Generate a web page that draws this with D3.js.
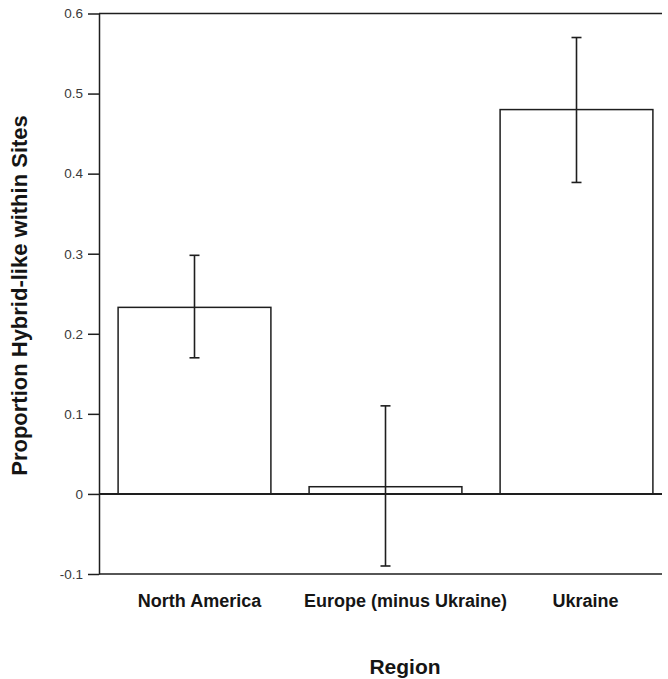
<!DOCTYPE html>
<html>
<head>
<meta charset="utf-8">
<script src="https://cdn.jsdelivr.net/npm/d3@7"></script>
<style>
  body { margin: 0; background: #fff; }
  svg { display: block; font-family: "Liberation Sans", Arial, sans-serif; }
</style>
</head>
<body>
<div id="chart"></div>
<script>
// Data
const regions = ['North America', 'Europe (minus Ukraine)', 'Ukraine'];
const proportions = [0.233, 0.009, 0.48];
const errLow = [0.17, -0.09, 0.389];
const errHigh = [0.298, 0.11, 0.57];
const yTicks = [-0.1, 0, 0.1, 0.2, 0.3, 0.4, 0.5, 0.6];

const width = 668, height = 679;
const plotLeft = 99, plotRight = 662, plotTop = 13.5, plotBottom = 574;
const ink = '#1e1e1e';
// labels in the original sit a little right of the bar centres
const labelNudge = [5, 20, 9];

const svg = d3.select('#chart').append('svg')
    .attr('width', width)
    .attr('height', height);

const x = d3.scaleBand()
    .domain(regions)
    .range([plotLeft, plotLeft + 191 * 3])
    .paddingInner(0.2)
    .paddingOuter(0.1);

const y = d3.scaleLinear()
    .domain([-0.1, 0.6])
    .range([plotBottom, plotTop]);

// Y axis with outward ticks
const yAxis = d3.axisLeft(y)
    .tickValues(yTicks)
    .tickSize(11)
    .tickSizeOuter(0)
    .tickPadding(5)
    .tickFormat(d => d === 0 ? '0' : d.toFixed(1));

const gy = svg.append('g')
    .attr('transform', `translate(${plotLeft},0)`)
    .call(yAxis);
gy.select('.domain').attr('stroke', ink).attr('stroke-width', 1.5);
gy.selectAll('.tick line').attr('stroke', ink).attr('stroke-width', 1.5);
gy.selectAll('.tick text')
    .attr('fill', '#3a3a3a')
    .style('font-size', '13.5px');

// Frame lines at top and bottom of plot
svg.append('line')
    .attr('x1', plotLeft).attr('x2', plotRight)
    .attr('y1', y(0.6)).attr('y2', y(0.6))
    .attr('stroke', ink).attr('stroke-width', 1.5);
svg.append('line')
    .attr('x1', plotLeft).attr('x2', plotRight)
    .attr('y1', y(-0.1)).attr('y2', y(-0.1))
    .attr('stroke', ink).attr('stroke-width', 1.5);

// Bars
const data = regions.map((r, i) => ({
    region: r, value: proportions[i], lo: errLow[i], hi: errHigh[i]
}));

svg.append('g')
    .selectAll('rect')
    .data(data)
    .enter()
    .append('rect')
    .attr('x', d => x(d.region))
    .attr('y', d => y(d.value))
    .attr('width', x.bandwidth())
    .attr('height', d => y(0) - y(d.value))
    .attr('fill', '#fff')
    .attr('stroke', ink)
    .attr('stroke-width', 1.5);

// Zero line
svg.append('line')
    .attr('x1', plotLeft).attr('x2', plotRight)
    .attr('y1', y(0)).attr('y2', y(0))
    .attr('stroke', ink).attr('stroke-width', 2);

// Error bars
const err = svg.append('g').attr('stroke', ink).attr('stroke-width', 1.6);
data.forEach(d => {
    const cx = x(d.region) + x.bandwidth() / 2;
    err.append('line')
        .attr('x1', cx).attr('x2', cx)
        .attr('y1', y(d.lo)).attr('y2', y(d.hi));
    [d.lo, d.hi].forEach(v => {
        err.append('line')
            .attr('x1', cx - 5).attr('x2', cx + 5)
            .attr('y1', y(v)).attr('y2', y(v));
    });
});

// Category labels
svg.append('g')
    .selectAll('text')
    .data(regions)
    .enter()
    .append('text')
    .attr('x', (d, i) => x(d) + x.bandwidth() / 2 + labelNudge[i])
    .attr('y', 607)
    .attr('text-anchor', 'middle')
    .style('font-size', '18px')
    .style('font-weight', 'bold')
    .attr('fill', '#151515')
    .text(d => d);

// Axis titles
svg.append('text')
    .attr('x', 405)
    .attr('y', 674)
    .attr('text-anchor', 'middle')
    .style('font-size', '21px')
    .style('font-weight', 'bold')
    .attr('fill', '#151515')
    .text('Region');

svg.append('text')
    .attr('transform', 'translate(27,295.5) rotate(-90)')
    .attr('text-anchor', 'middle')
    .style('font-size', '22px')
    .style('font-weight', 'bold')
    .attr('fill', '#151515')
    .text('Proportion Hybrid-like within Sites');
</script>
</body>
</html>
